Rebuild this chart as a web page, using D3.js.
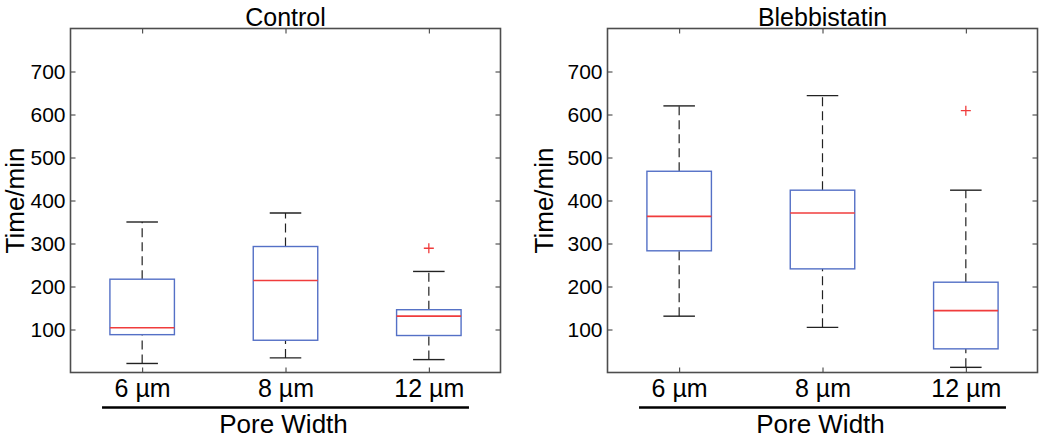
<!DOCTYPE html>
<html>
<head>
<meta charset="utf-8">
<script src="https://cdn.jsdelivr.net/npm/d3@7"></script>
<style>
  html, body { margin: 0; padding: 0; background: #fff; }
  svg { display: block; font-family: "Liberation Sans", Arial, sans-serif; }
</style>
</head>
<body>
<div id="chart"></div>
<script>
// pore widths on the x axis
const categories = ['6 µm', '8 µm', '12 µm'];
const yTicks = [100, 200, 300, 400, 500, 600, 700];

// box stats per category: [lower whisker, q1, median, q3, upper whisker]
const controlStats = [
  [21, 88, 104, 217, 350],
  [34, 75, 214, 293, 371],
  [30, 86, 131, 146, 235]
];
const controlOutliers = [[], [], [289]];

const blebStats = [
  [131, 283, 363, 468, 620],
  [105, 241, 371, 424, 644],
  [12, 55, 144, 210, 424]
];
const blebOutliers = [[], [], [609]];

const width = 1050;
const height = 441;
const boxColor = '#5470c6';
const medColor = '#f03c3c';

const svg = d3.select('#chart')
  .append('svg')
    .attr('width', width)
    .attr('height', height);

function drawPanel(title, stats, outliers, box, labelX) {
  const g = svg.append('g');

  const x = d3.scalePoint()
    .domain(categories)
    .range([box.left, box.right])
    .padding(0.5);

  const y = d3.scaleLinear()
    .domain([0, 800])
    .range([box.bottom, box.top]);

  const step = x.step();
  const boxW = step * 0.45;
  const capW = step * 0.22;

  // ticks on all four sides, pointing inward
  const left = g.append('g')
    .attr('transform', `translate(${box.left},0)`)
    .call(d3.axisLeft(y).tickValues(yTicks).tickSize(-5).tickPadding(5));
  left.selectAll('text').attr('font-size', 21).attr('fill', '#000').attr('font-family', null);

  g.append('g')
    .attr('transform', `translate(${box.right},0)`)
    .call(d3.axisRight(y).tickValues(yTicks).tickSize(-5).tickFormat(''));

  const bottom = g.append('g')
    .attr('transform', `translate(0,${box.bottom})`)
    .call(d3.axisBottom(x).tickSize(-5).tickPadding(7));
  bottom.selectAll('text').attr('font-size', 25).attr('fill', '#000').attr('font-family', null);

  g.append('g')
    .attr('transform', `translate(0,${box.top})`)
    .call(d3.axisTop(x).tickSize(-5).tickFormat(''));

  g.selectAll('.domain').remove();
  g.selectAll('.tick line').attr('stroke', '#333').attr('stroke-width', 1);

  g.append('rect')
    .attr('x', box.left)
    .attr('y', box.top)
    .attr('width', box.right - box.left)
    .attr('height', box.bottom - box.top)
    .attr('fill', 'none')
    .attr('stroke', '#4d4d4d')
    .attr('stroke-width', 1.6);

  categories.forEach((c, i) => {
    const [lo, q1, med, q3, hi] = stats[i];
    const cx = x(c);

    // dashed whiskers
    [[lo, q1], [q3, hi]].forEach(([a, b]) => {
      g.append('line')
        .attr('x1', cx).attr('x2', cx)
        .attr('y1', y(a)).attr('y2', y(b))
        .attr('stroke', '#222')
        .attr('stroke-width', 1.2)
        .attr('stroke-dasharray', '9,5');
    });

    [lo, hi].forEach((v) => {
      g.append('line')
        .attr('x1', cx - capW / 2).attr('x2', cx + capW / 2)
        .attr('y1', y(v)).attr('y2', y(v))
        .attr('stroke', '#222')
        .attr('stroke-width', 1.4);
    });

    g.append('rect')
      .attr('x', cx - boxW / 2)
      .attr('y', y(q3))
      .attr('width', boxW)
      .attr('height', y(q1) - y(q3))
      .attr('fill', '#fff')
      .attr('stroke', boxColor)
      .attr('stroke-width', 1.4);

    g.append('line')
      .attr('x1', cx - boxW / 2).attr('x2', cx + boxW / 2)
      .attr('y1', y(med)).attr('y2', y(med))
      .attr('stroke', medColor)
      .attr('stroke-width', 1.6);

    outliers[i].forEach((v) => {
      g.append('path')
        .attr('d', `M${cx - 5},${y(v)}H${cx + 5}M${cx},${y(v) - 5}V${y(v) + 5}`)
        .attr('stroke', medColor)
        .attr('stroke-width', 1.3);
    });
  });

  const cx = (box.left + box.right) / 2;

  g.append('text')
    .attr('x', cx)
    .attr('y', 26)
    .attr('text-anchor', 'middle')
    .attr('font-size', 25)
    .text(title);

  g.append('text')
    .attr('transform', `translate(${labelX},${(box.top + box.bottom) / 2}) rotate(-90)`)
    .attr('text-anchor', 'middle')
    .attr('font-size', 26)
    .text('Time/min');

  // bracket line under the category labels
  const first = x(categories[0]);
  const last = x(categories[categories.length - 1]);
  g.append('line')
    .attr('x1', first - step * 0.28)
    .attr('x2', last + step * 0.28)
    .attr('y1', 407.5).attr('y2', 407.5)
    .attr('stroke', '#000')
    .attr('stroke-width', 2.5);

  g.append('text')
    .attr('x', cx - 2)
    .attr('y', 433)
    .attr('text-anchor', 'middle')
    .attr('font-size', 26)
    .text('Pore Width');
}

drawPanel('Control', controlStats, controlOutliers,
  {left: 70.5, right: 500.5, top: 28.5, bottom: 372.5}, 24);
drawPanel('Blebbistatin', blebStats, blebOutliers,
  {left: 607.5, right: 1037.5, top: 28.5, bottom: 372.5}, 553);
</script>
</body>
</html>
